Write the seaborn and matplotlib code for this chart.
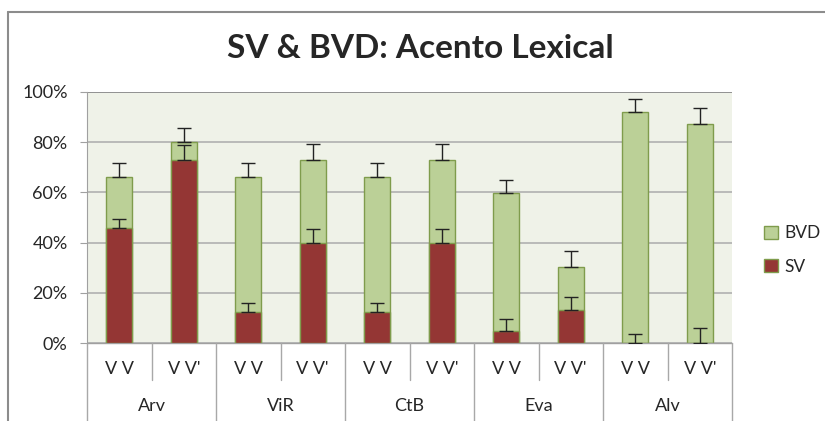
import seaborn as sns
import matplotlib.pyplot as plt
import pandas as pd
from matplotlib.patches import Patch
from matplotlib.lines import Line2D
import matplotlib.transforms as mtransforms

groups = ['Arv', 'ViR', 'CtB', 'Eva', 'Alv']
subs = ['V V', "V V'"]

# percent values
sv = [45.7, 72.9, 12.2, 39.7, 12.2, 39.7, 4.9, 13.0, 0.0, 0.0]
bvd = [20.6, 7.1, 54.1, 33.2, 54.1, 33.2, 54.7, 17.3, 92.0, 87.4]
sv_err = [3.7, 5.9, 3.9, 5.7, 3.9, 5.7, 4.5, 5.4, 3.5, 5.9]
total_err = [5.3, 5.8, 5.3, 6.3, 5.3, 6.3, 5.3, 6.2, 5.2, 6.1]

df = pd.DataFrame({
    'group': [g for g in groups for s in subs],
    'sub': [s for g in groups for s in subs],
    'SV': sv,
    'BVD': bvd,
})
df['key'] = df['group'] + ' ' + df['sub']
df['total'] = df['SV'] + df['BVD']

sns.set_style('white')
plt.rcParams['font.family'] = ['Lato', 'DejaVu Sans']

fig = plt.figure(figsize=(8.25, 4.21), dpi=100)
ax = fig.add_axes([87 / 825, 78 / 421, 645 / 825, 251 / 421])
ax.set_facecolor('#EFF2E8')

green = '#BBD097'
red = '#943634'
edge = '#7F9C4C'

sns.barplot(data=df, x='key', y='total', color=green, width=0.4,
            edgecolor=edge, linewidth=1, saturation=1, ax=ax, zorder=2)
sns.barplot(data=df, x='key', y='SV', color=red, width=0.4,
            edgecolor=edge, linewidth=1, saturation=1, ax=ax, zorder=3)

xs = range(len(df))
ax.errorbar(xs, df['SV'], yerr=[[0] * len(df), sv_err], fmt='none',
            ecolor='#222222', elinewidth=1, capsize=4.8, capthick=1, zorder=4)
ax.errorbar(xs, df['total'], yerr=[[0] * len(df), total_err], fmt='none',
            ecolor='#222222', elinewidth=1, capsize=4.8, capthick=1, zorder=4)

ax.set_ylim(0, 100)
ax.set_xlim(-0.5, len(df) - 0.5)
ax.set_yticks(range(0, 101, 20))
ax.set_yticklabels([f'{v}%' for v in range(0, 101, 20)], fontsize=13)
ax.yaxis.grid(True, color='#B0B0B0', linewidth=1.2, zorder=0)
ax.set_axisbelow(True)
ax.tick_params(axis='y', length=5, color='#A0A0A0', pad=9, left=True)
ax.set_xticks([])
ax.set_xlabel('')
ax.set_ylabel('')
for s in ['top', 'right', 'bottom']:
    ax.spines[s].set_visible(False)
ax.spines['left'].set_color('#A0A0A0')
ax.axhline(100, color='#8C8C8C', linewidth=1.2, zorder=1)

# two level category axis
trans = mtransforms.blended_transform_factory(ax.transData, ax.transAxes)
ax.plot([-0.5, len(df) - 0.5], [0, 0], transform=trans, color='#A0A0A0',
        linewidth=1, clip_on=False)
for i in range(len(df) + 1):
    x = i - 0.5
    low = -0.32 if i % 2 == 0 else -0.148
    ax.plot([x, x], [0, low], transform=trans, color='#A8A8A8',
            linewidth=1, clip_on=False)
for i, row in df.iterrows():
    ax.text(i, -0.104, row['sub'], transform=trans, ha='center', va='center',
            fontsize=13)
for j, g in enumerate(groups):
    ax.text(2 * j + 0.5, -0.25, g, transform=trans, ha='center', va='center',
            fontsize=13)

fig.text(420 / 825, 1 - 48 / 421, 'SV & BVD: Acento Lexical', ha='center',
         va='center', fontsize=24, fontweight='bold')

handles = [Patch(facecolor=green, edgecolor=edge, label='BVD'),
           Patch(facecolor=red, edgecolor=edge, label='SV')]
fig.legend(handles=handles, loc='center left',
           bbox_to_anchor=(764 / 825, 1 - 250 / 421), frameon=False,
           fontsize=12.5, handlelength=0.8, handleheight=0.8,
           handletextpad=0.35, labelspacing=1.0, borderpad=0,
           borderaxespad=0)

# chart area border (cropped on right and bottom)
fig.add_artist(Line2D([8 / 825, 8 / 825], [0, 1 - 12 / 421],
                      transform=fig.transFigure, color='#8C8C8C', linewidth=1.5))
fig.add_artist(Line2D([8 / 825, 1], [1 - 12 / 421, 1 - 12 / 421],
                      transform=fig.transFigure, color='#8C8C8C', linewidth=1.5))

fig.savefig('out.png', dpi=100)
